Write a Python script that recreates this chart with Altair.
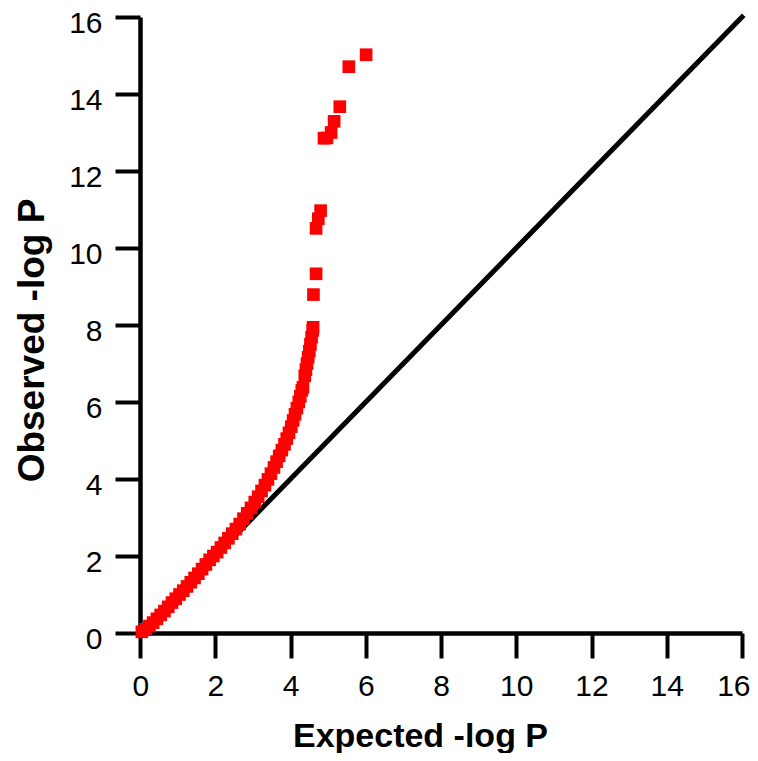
import altair as alt
import pandas as pd

# Q-Q points (expected -log P, observed -log P)
expected = [0.05, 0.15, 0.25, 0.35, 0.45, 0.55, 0.65, 0.75, 0.85, 0.95,
            1.05, 1.15, 1.25, 1.35, 1.45, 1.55, 1.65, 1.75, 1.85, 1.95,
            2.05, 2.15, 2.25, 2.35, 2.45, 2.55, 2.65, 2.75, 2.85, 2.95,
            3.05, 3.14, 3.23, 3.32, 3.4, 3.48, 3.56, 3.63, 3.7, 3.77,
            3.84, 3.9, 3.96, 4.02, 4.07, 4.12, 4.17, 4.22, 4.26, 4.3,
            4.33, 4.38, 4.41, 4.44, 4.47, 4.5, 4.53, 4.56, 4.59, 4.6,
            4.61, 4.68, 4.68, 4.74, 4.80, 4.89, 4.97, 5.08, 5.16, 5.31, 5.55, 6.01]
observed = [0.03, 0.1, 0.18, 0.27, 0.37, 0.47, 0.57, 0.68, 0.79, 0.89,
            1.0, 1.1, 1.21, 1.32, 1.43, 1.54, 1.66, 1.78, 1.9, 2.0,
            2.1, 2.22, 2.34, 2.46, 2.58, 2.7, 2.83, 2.97, 3.11, 3.25,
            3.4, 3.54, 3.69, 3.84, 3.99, 4.14, 4.3, 4.45, 4.6, 4.75,
            4.9, 5.05, 5.2, 5.36, 5.52, 5.68, 5.84, 6.0, 6.15, 6.3,
            6.38, 6.68, 6.84, 7.0, 7.16, 7.32, 7.5, 7.68, 7.86, 7.94,
            8.79, 9.33, 10.51, 10.76, 10.97, 12.85, 12.86, 13.0, 13.29, 13.67, 14.71, 15.02]

# reference diagonal
diag_x = [0, 16]
diag_y = [0, 16]

tick_vals = [0, 2, 4, 6, 8, 10, 12, 14, 16]

pts = pd.DataFrame({"e": expected, "o": observed})
diag = pd.DataFrame({"e": diag_x, "o": diag_y})

xscale = alt.Scale(domain=[0, 16], nice=False, zero=False)
yscale = alt.Scale(domain=[0, 16], nice=False, zero=False)

common_axis = dict(
    values=tick_vals, grid=False, domainColor="black", domainWidth=4.5,
    tickColor="black", tickWidth=4, tickSize=25, labelFont="Liberation Sans",
    labelFontSize=30, labelColor="black", labelPadding=13,
    titleFont="Liberation Sans", titleFontWeight="bold", titleColor="black",
    labelOverlap=False, labelBound=False,
)

x_axis = alt.Axis(title="Expected -log P", titleFontSize=34, titleBaseline="alphabetic",
                  titleX=280, titleY=113, titleAlign="center",
                  labelFlush=True, labelFlushOffset=8, **common_axis)
y_axis = alt.Axis(title="Observed -log P", titleFontSize=37, titleBaseline="alphabetic",
                  titleAngle=270, titleX=-97, titleY=323, titleAlign="center",
                  labelFlush=False, labelOffset=6, **common_axis)

line = alt.Chart(diag).mark_line(color="black", strokeWidth=5, strokeCap="square").encode(
    x=alt.X("e:Q", scale=xscale, axis=x_axis),
    y=alt.Y("o:Q", scale=yscale, axis=y_axis),
)

points = alt.Chart(pts).mark_point(shape="square", filled=True, color="#ff0000",
                                   size=160, opacity=1).encode(
    x=alt.X("e:Q", scale=xscale),
    y=alt.Y("o:Q", scale=yscale),
)

chart = alt.layer(line, points).properties(
    width=602, height=616,
    autosize=alt.AutoSizeParams(type="none"),
    padding={"left": 132, "top": 9, "right": 8, "bottom": 120},
).configure_view(strokeWidth=0)

chart.save("out.html", embed_options={"renderer": "svg", "actions": False})
